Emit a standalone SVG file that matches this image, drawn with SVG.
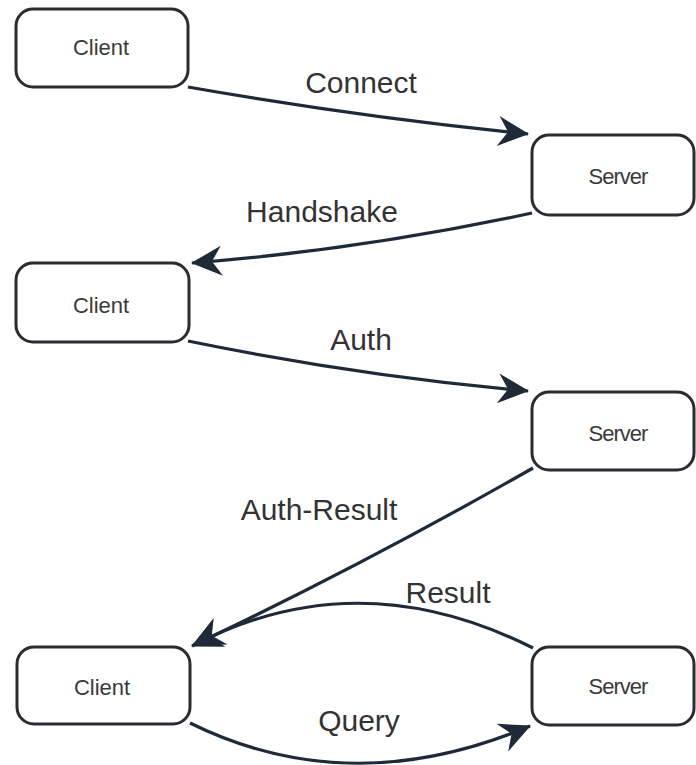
<svg xmlns="http://www.w3.org/2000/svg" width="696" height="765" viewBox="0 0 696 765">
<style>
.box{fill:#ffffff;stroke:#2a2c30;stroke-width:3}
.ntext{font-family:"Liberation Sans",Arial,sans-serif;font-size:22px;fill:#3a3a3a;text-anchor:middle}
.srv{letter-spacing:-1px}
.edge{fill:none;stroke:#1f2a38;stroke-width:3.2;marker-end:url(#ah)}
.lbl{font-family:"Liberation Sans",Arial,sans-serif;font-size:30px;fill:#333333;text-anchor:middle}
</style>
<defs>
<marker id="ah" viewBox="-32 -16 34 32" refX="0" refY="0" markerWidth="34" markerHeight="32" markerUnits="userSpaceOnUse" orient="auto">
<path d="M1,0 L-30,-15 L-20,0 L-30,15 Z" fill="#1f2a38"/>
</marker>
</defs>
<rect width="696" height="765" fill="#ffffff"/>
<g id="connectors">
<path class="edge" d="M188,87 Q359,117 528,134"/>
<path class="edge" d="M532,213 Q361,250 192,263"/>
<path class="edge" d="M188,341 Q359,376 528,391"/>
<path class="edge" d="M533,468 Q361,566 192,646"/>
<path class="edge" d="M533,648 Q358,560 194,645"/>
<path class="edge" d="M190,723 Q350,802 530,726"/>
<text class="lbl" x="361" y="93">Connect</text>
<text class="lbl" x="322" y="222">Handshake</text>
<text class="lbl" x="361" y="350">Auth</text>
<text class="lbl" x="319" y="520">Auth-Result</text>
<text class="lbl" x="448" y="603">Result</text>
<text class="lbl" x="359" y="731">Query</text>
</g>
<g id="client1"><rect class="box" x="16" y="9" width="172" height="78" rx="17"/><text class="ntext" x="101" y="55">Client</text></g>
<g id="server1"><rect class="box" x="532" y="135" width="162" height="80" rx="17"/><text class="ntext srv" x="618" y="184">Server</text></g>
<g id="client2"><rect class="box" x="16" y="263" width="173" height="79" rx="17"/><text class="ntext" x="101" y="313">Client</text></g>
<g id="server2"><rect class="box" x="532" y="392" width="162" height="78" rx="17"/><text class="ntext srv" x="618" y="441">Server</text></g>
<g id="client3"><rect class="box" x="17" y="647" width="173" height="77" rx="17"/><text class="ntext" x="102" y="695">Client</text></g>
<g id="server3"><rect class="box" x="532" y="647" width="162" height="78" rx="17"/><text class="ntext srv" x="618" y="694">Server</text></g>
</svg>
